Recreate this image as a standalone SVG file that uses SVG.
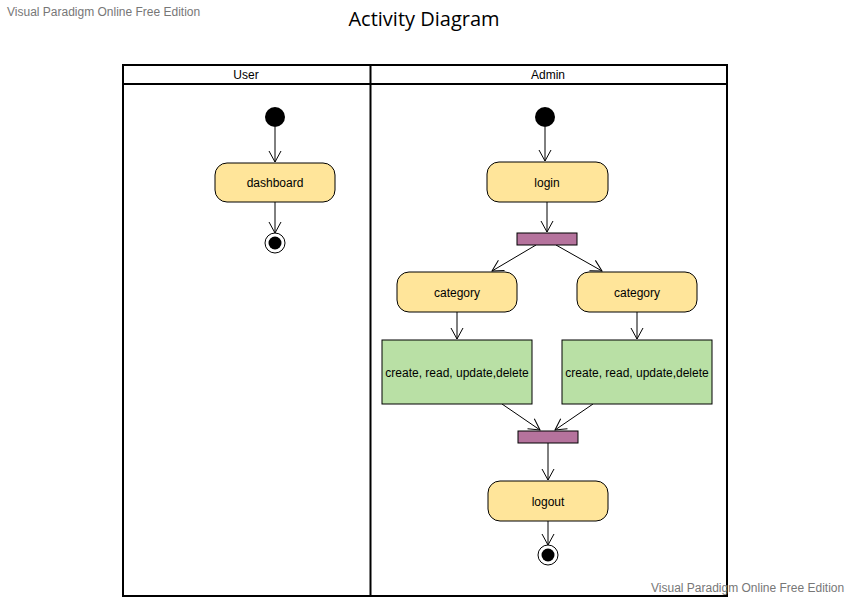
<svg xmlns="http://www.w3.org/2000/svg" width="850" height="597" viewBox="0 0 850 597">
<defs>
<marker id="arr" markerWidth="14" markerHeight="14" refX="12" refY="7" orient="auto" markerUnits="userSpaceOnUse">
<path d="M1,1 L12,7 L1,13" fill="none" stroke="#000" stroke-width="1"/>
</marker>
<style>
.t{font-family:"Liberation Sans",Arial,sans-serif;font-size:12px;fill:#000;text-anchor:middle}
.wm{font-family:"Liberation Sans",Arial,sans-serif;font-size:12px;fill:#777}
.act{fill:#ffe59a;stroke:#000;stroke-width:1}
.op{fill:#b9e0a5;stroke:#000;stroke-width:1}
.bar{fill:#b5739d;stroke:#000;stroke-width:1}
.c{stroke:#000;stroke-width:1;fill:none;marker-end:url(#arr)}
.lane{fill:none;stroke:#000;stroke-width:2}
</style>
</defs>
<rect width="850" height="597" fill="#fff"/>
<text class="wm" x="7" y="16">Visual Paradigm Online Free Edition</text>
<text x="424" y="26" style="font-family:'Open Sans',sans-serif;font-size:20px;text-anchor:middle;fill:#000">Activity Diagram</text>

<g id="pool">
<rect class="lane" x="123" y="65" width="604" height="531"/>
<line class="lane" x1="123" y1="84" x2="727" y2="84"/>
<line class="lane" x1="370.5" y1="65" x2="370.5" y2="596"/>
<text class="t" x="246" y="79">User</text>
<text class="t" x="548" y="79">Admin</text>
</g>

<g id="connectors">
<line class="c" x1="275" y1="127" x2="275" y2="162"/>
<line class="c" x1="275" y1="202" x2="275" y2="233"/>
<line class="c" x1="545" y1="127" x2="545" y2="161"/>
<line class="c" x1="547" y1="202" x2="547" y2="232"/>
<line class="c" x1="536" y1="245" x2="492" y2="271"/>
<line class="c" x1="556" y1="245" x2="602" y2="271"/>
<line class="c" x1="457" y1="312" x2="457" y2="339"/>
<line class="c" x1="637" y1="312" x2="637" y2="339"/>
<line class="c" x1="502" y1="404" x2="540" y2="430"/>
<line class="c" x1="593" y1="404" x2="555" y2="430"/>
<line class="c" x1="548" y1="443" x2="548" y2="480"/>
<line class="c" x1="548" y1="521" x2="548" y2="545"/>
</g>

<g id="u_start"><circle cx="275" cy="117" r="10" fill="#000"/></g>
<g id="dashboard"><rect class="act" x="215" y="163" width="120" height="39" rx="12"/><text class="t" x="275" y="187">dashboard</text></g>
<g id="u_end"><circle cx="275" cy="243" r="10" fill="#fff" stroke="#000" stroke-width="1"/><circle cx="275" cy="243" r="6.5" fill="#000"/></g>

<g id="a_start"><circle cx="545" cy="117" r="10" fill="#000"/></g>
<g id="login"><rect class="act" x="487" y="162" width="121" height="40" rx="12"/><text class="t" x="547" y="187">login</text></g>
<g id="fork"><rect class="bar" x="517" y="233" width="60" height="12"/></g>
<g id="category1"><rect class="act" x="397" y="272" width="120" height="40" rx="12"/><text class="t" x="457" y="297">category</text></g>
<g id="category2"><rect class="act" x="577" y="272" width="120" height="40" rx="12"/><text class="t" x="637" y="297">category</text></g>
<g id="crud1"><rect class="op" x="382" y="340" width="150" height="64"/><text class="t" x="457" y="377">create, read, update,delete</text></g>
<g id="crud2"><rect class="op" x="562" y="340" width="150" height="64"/><text class="t" x="637" y="377">create, read, update,delete</text></g>
<g id="join"><rect class="bar" x="518" y="431" width="60" height="12"/></g>
<g id="logout"><rect class="act" x="488" y="481" width="120" height="40" rx="12"/><text class="t" x="548" y="506">logout</text></g>
<g id="a_end"><circle cx="548" cy="555" r="10" fill="#fff" stroke="#000" stroke-width="1"/><circle cx="548" cy="555" r="6.5" fill="#000"/></g>

<text class="wm" x="651" y="592">Visual Paradigm Online Free Edition</text>
</svg>
